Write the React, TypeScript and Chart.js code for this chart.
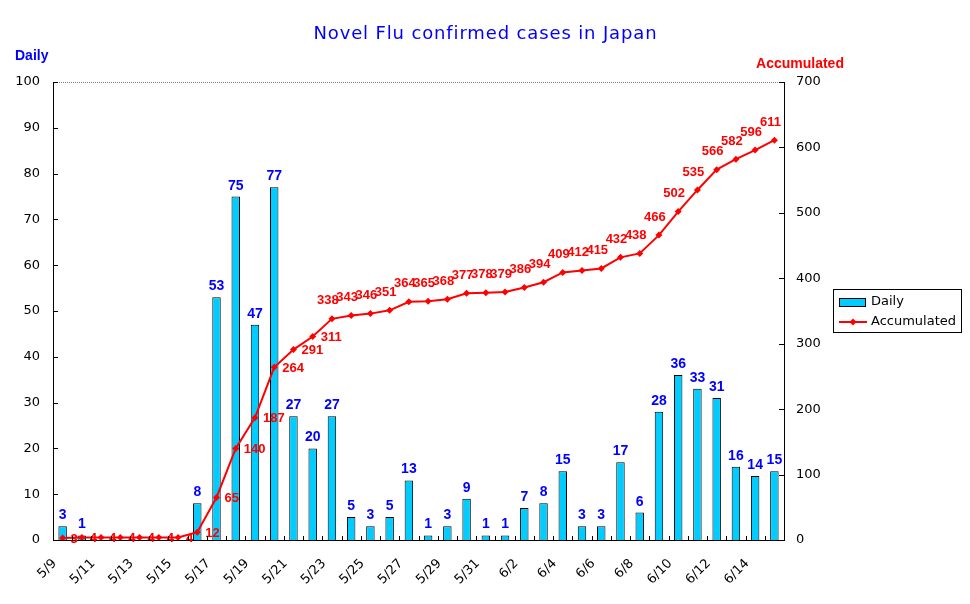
import React, { useEffect, useRef } from 'react';
import { Chart, registerables } from 'chart.js';

Chart.register(...registerables);

const categories = [
  '5/9', '5/10', '5/11', '5/12', '5/13', '5/14', '5/15', '5/16', '5/17', '5/18',
  '5/19', '5/20', '5/21', '5/22', '5/23', '5/24', '5/25', '5/26', '5/27', '5/28',
  '5/29', '5/30', '5/31', '6/1', '6/2', '6/3', '6/4', '6/5', '6/6', '6/7',
  '6/8', '6/9', '6/10', '6/11', '6/12', '6/13', '6/14', '6/15',
];
const daily = [
  3, 1, 0, 0, 0, 0, 0, 8, 53, 75, 47, 77, 27, 20, 27, 5, 3, 5, 13, 1, 3, 9, 1,
  1, 7, 8, 15, 3, 3, 17, 6, 28, 36, 33, 31, 16, 14, 15,
];
const accumulated = [
  3, 4, 4, 4, 4, 4, 4, 12, 65, 140, 187, 264, 291, 311, 338, 343, 346, 351, 364, 365, 368, 377, 378,
  379, 386, 394, 409, 412, 415, 432, 438, 466, 502, 535, 566, 582, 596, 611,
];
const dailyTicks = [0, 10, 20, 30, 40, 50, 60, 70, 80, 90, 100];
const accumulatedTicks = [0, 100, 200, 300, 400, 500, 600, 700];
const labelRightUntil = 13;

const TITLE = 'Novel Flu confirmed cases in Japan';
const BAR_COLOR = '#00CCFF';
const LINE_COLOR = '#FF0000';
const BLUE = '#0000FF';
const TICK_FONT = 'DejaVu Sans';
const LABEL_FONT = 'Liberation Sans';

const decorPlugin = {
  id: 'decor',
  afterDatasetsDraw(chart: any) {
    const ctx = chart.ctx as CanvasRenderingContext2D;
    const y = chart.scales.y;
    const y1 = chart.scales.y1;
    const x = chart.scales.x;
    ctx.save();
    // bar labels
    ctx.font = `bold 14px "${LABEL_FONT}"`;
    ctx.fillStyle = BLUE;
    ctx.textAlign = 'center';
    ctx.textBaseline = 'alphabetic';
    daily.forEach((v, i) => {
      if (!v) return;
      const px = x.getPixelForValue(i);
      const py = y.getPixelForValue(v);
      ctx.fillText(String(v), px, py - 7);
    });
    // line labels
    ctx.font = `bold 13px "${LABEL_FONT}"`;
    ctx.fillStyle = LINE_COLOR;
    ctx.textBaseline = 'middle';
    accumulated.forEach((v, i) => {
      const px = x.getPixelForValue(i);
      const py = y1.getPixelForValue(v);
      if (i <= labelRightUntil) {
        ctx.textAlign = 'left';
        ctx.fillText(String(v), px + 8, py + 1);
      } else {
        ctx.textAlign = 'center';
        ctx.fillText(String(v), px - 4, py - 18);
      }
    });
    ctx.restore();
  },
  afterDraw(chart: any) {
    const ctx = chart.ctx as CanvasRenderingContext2D;
    const a = chart.chartArea;
    const y = chart.scales.y;
    const y1 = chart.scales.y1;
    ctx.save();
    // top dotted border
    ctx.strokeStyle = '#808080';
    ctx.lineWidth = 1;
    ctx.setLineDash([1, 1]);
    ctx.beginPath();
    ctx.moveTo(a.left, Math.round(a.top) + 0.5);
    ctx.lineTo(a.right, Math.round(a.top) + 0.5);
    ctx.stroke();
    ctx.setLineDash([]);
    // inward ticks
    ctx.strokeStyle = '#000';
    ctx.beginPath();
    dailyTicks.forEach((v) => {
      const py = Math.round(y.getPixelForValue(v)) + 0.5;
      ctx.moveTo(a.left, py);
      ctx.lineTo(a.left + 5, py);
    });
    accumulatedTicks.forEach((v) => {
      const py = Math.round(y1.getPixelForValue(v)) + 0.5;
      ctx.moveTo(a.right - 5, py);
      ctx.lineTo(a.right, py);
    });
    const n = categories.length;
    for (let i = 1; i < n; i++) {
      const px = Math.round(a.left + (i * (a.right - a.left)) / n) + 0.5;
      ctx.moveTo(px, a.bottom);
      ctx.lineTo(px, a.bottom - 4);
    }
    ctx.stroke();

    // title
    ctx.fillStyle = BLUE;
    ctx.font = `18px "${TICK_FONT}"`;
    ctx.textAlign = 'center';
    ctx.textBaseline = 'middle';
    const w0 = ctx.measureText(TITLE).width;
    const ls = (344 - w0) / TITLE.length;
    (ctx as any).letterSpacing = `${ls}px`;
    ctx.fillText(TITLE, 485 + ls / 2, 34);
    (ctx as any).letterSpacing = '0px';

    // axis titles
    ctx.font = `bold 14px "${LABEL_FONT}"`;
    ctx.textAlign = 'left';
    ctx.fillStyle = BLUE;
    ctx.fillText('Daily', 15, 56);
    ctx.fillStyle = LINE_COLOR;
    ctx.textAlign = 'center';
    ctx.fillText('Accumulated', 800, 64);

    // legend
    ctx.fillStyle = '#fff';
    ctx.fillRect(833, 289, 128, 43);
    ctx.strokeStyle = '#000';
    ctx.lineWidth = 1;
    ctx.strokeRect(833.5, 289.5, 128, 43);
    ctx.fillStyle = BAR_COLOR;
    ctx.fillRect(839, 298, 27, 8);
    ctx.strokeRect(839.5, 298.5, 26, 8);
    ctx.strokeStyle = LINE_COLOR;
    ctx.lineWidth = 2;
    ctx.beginPath();
    ctx.moveTo(839, 322);
    ctx.lineTo(867, 322);
    ctx.stroke();
    ctx.fillStyle = LINE_COLOR;
    ctx.beginPath();
    ctx.moveTo(853, 318.5);
    ctx.lineTo(856.5, 322);
    ctx.lineTo(853, 325.5);
    ctx.lineTo(849.5, 322);
    ctx.closePath();
    ctx.fill();
    ctx.fillStyle = '#000';
    ctx.font = `13px "${TICK_FONT}"`;
    ctx.textAlign = 'left';
    ctx.textBaseline = 'middle';
    ctx.fillText('Daily', 871, 302);
    ctx.fillText('Accumulated', 871, 322);
    ctx.restore();
  },
};

export default function App() {
  const ref = useRef<HTMLCanvasElement>(null);
  useEffect(() => {
    document.body.style.margin = '0';
    const canvas = ref.current;
    if (!canvas) return;
    const chart = new Chart(canvas, {
      type: 'bar',
      data: {
        labels: categories,
        datasets: [
          {
            type: 'line',
            label: 'Accumulated',
            data: accumulated,
            yAxisID: 'y1',
            borderColor: LINE_COLOR,
            backgroundColor: LINE_COLOR,
            borderWidth: 2,
            pointStyle: 'rectRot',
            pointRadius: 3.5,
            pointBorderWidth: 0,
            tension: 0,
            order: 0,
          } as any,
          {
            type: 'bar',
            label: 'Daily',
            data: daily,
            yAxisID: 'y',
            backgroundColor: BAR_COLOR,
            borderColor: '#000',
            borderWidth: 1,
            borderSkipped: 'bottom',
            barPercentage: 0.44,
            categoryPercentage: 1,
            order: 1,
          },
        ],
      },
      options: {
        responsive: false,
        animation: false,
        devicePixelRatio: 1,
        layout: { padding: { top: 82, left: 0, right: 0, bottom: 0 } },
        plugins: {
          legend: { display: false },
          title: { display: false },
          tooltip: { enabled: false },
        },
        scales: {
          x: {
            type: 'category',
            offset: true,
            grid: { display: false, drawTicks: false },
            border: { display: true, color: '#000', width: 1 },
            ticks: {
              autoSkip: false,
              minRotation: 45,
              maxRotation: 45,
              padding: 16,
              labelOffset: -8,
              color: '#000',
              font: { family: TICK_FONT, size: 13 },
              callback: (_v: any, i: number) => (i % 2 === 0 ? categories[i] : ''),
            },
            afterFit: (s: any) => {
              s.height = 64;
            },
          },
          y: {
            position: 'left',
            min: 0,
            max: 100,
            grid: { display: false, drawTicks: false },
            border: { display: true, color: '#000', width: 1 },
            ticks: {
              stepSize: 10,
              padding: 13,
              color: '#000',
              font: { family: TICK_FONT, size: 13 },
            },
            afterFit: (s: any) => {
              s.width = 53;
            },
          },
          y1: {
            position: 'right',
            min: 0,
            max: 700,
            grid: { display: false, drawTicks: false },
            border: { display: true, color: '#000', width: 1 },
            ticks: {
              stepSize: 100,
              padding: 12,
              color: '#000',
              font: { family: TICK_FONT, size: 13 },
            },
            afterFit: (s: any) => {
              s.width = 186;
            },
          },
        },
      },
      plugins: [decorPlugin],
    });
    return () => chart.destroy();
  }, []);
  return <canvas ref={ref} width={970} height={604} style={{ display: 'block' }} />;
}
